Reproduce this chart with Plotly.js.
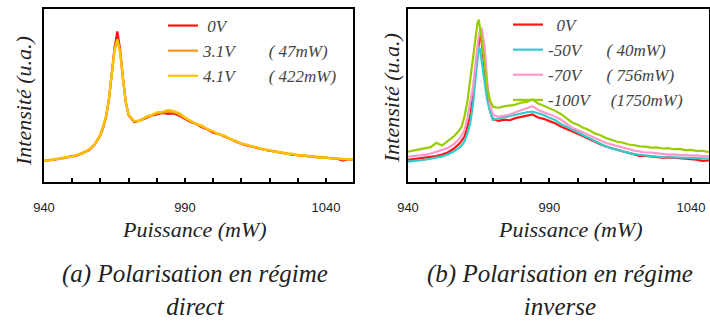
<!DOCTYPE html>
<html>
<head>
<meta charset="utf-8">
<script src="https://cdn.plot.ly/plotly-3.0.1.min.js"></script>
<style>html,body{margin:0;padding:0;background:#fff;}#chart{width:710px;height:329px;}</style>
</head>
<body>
<div id="chart"></div>
<script>
// ---------- (a) Polarisation en régime direct ----------
const xDirect = [940,942,944,946,948,950,952,954,956,958,960,
  961,962,963,964,965,966,967,968,969,970,
  972,974,976,978,980,982,984,986,988,990,992,994,996,998,1000,1002,1004,1006,1008,1010,
  1012,1014,1016,1018,1020,1022,1024,1026,1028,1030,1032,1034,1036,1038,1040,1042,1044,1046,1048,1050];
const yDirect0V = [12.2,12.5,13.1,13.4,14.2,14.6,15.5,16.9,18.4,21.6,27.0,
  31.5,37.5,47,61,77,86.8,76.5,60,46,38.5,
  34.6,35.3,36.8,38.2,38.9,39.8,39.2,39.5,38.2,36.3,34.6,33.4,31.6,30.3,28.4,27.6,26.1,24.6,23.2,21.9,
  21.1,20.3,19.2,18.6,18.1,17.3,16.9,16.4,15.7,15.5,15.1,14.6,14.5,14.0,13.9,13.5,13.4,12.4,13.2,12.9];
const yDirect31V = [12.0,12.8,13.0,13.7,14.0,14.9,15.7,16.6,18.6,21.9,27.3,
  32,38,47.5,61,75.5,82,74.5,59.5,46.5,38.8,
  34.9,35.6,37.2,38.5,39.6,40.3,40.6,40.2,38.9,36.9,35.0,33.6,32.0,30.6,28.9,27.7,26.5,24.9,23.5,22.2,
  21.2,20.6,19.5,18.8,18.2,17.6,16.9,16.6,16.0,15.6,15.2,14.9,14.4,14.1,14.0,13.7,13.4,13.2,13.1,13.0];
const yDirect41V = [12.3,12.4,13.3,13.3,14.4,14.5,15.9,16.8,18.9,21.7,27.1,
  31.8,37.8,47.3,60.5,75.8,82.3,74.8,59.8,46.2,38.6,
  35.2,35.1,37.6,38.4,40.2,40.5,41.6,40.9,39.6,37.2,35.5,33.4,32.5,30.4,29.3,27.4,26.9,24.7,23.9,22.0,
  21.6,20.3,19.9,18.6,18.5,17.3,17.2,16.2,16.3,15.4,15.5,14.6,14.7,13.8,14.2,13.5,13.7,13.0,13.3,12.9];
const namesDirect = ["\u00a00V",
  "3.1V\u00a0\u00a0\u00a0\u00a0\u00a0\u00a0\u00a0\u00a0(\u00a047mW)",
  "4.1V\u00a0\u00a0\u00a0\u00a0\u00a0\u00a0\u00a0\u00a0(\u00a0422mW)"];
const colorsDirect = ["#ff1414", "#f7961e", "#fcc400"];

// ---------- (b) Polarisation en régime inverse ----------
const xInverse = [940,942,944,946,948,950,952,954,956,958,
  959,960,961,962,963,964,964.5,965,965.5,966,967,968,969,970,971,972,
  974,976,978,980,982,984,986,988,990,992,994,996,998,1000,1002,1004,1006,1008,
  1010,1012,1014,1016,1018,1020,1022,1024,1026,1028,1030,1032,1034,1036,1038,1040,1042,1044,1046,1048];
const yInv0V = [12.7,13.1,13.3,13.8,14.2,14.9,15.8,17.0,19.0,21.8,
  23.8,26.2,32,38,50,66,75,83,86.8,81,65,52,41,36.3,35.8,35.2,
  35.9,35.6,36.8,37.5,38.2,38.9,37.2,36.4,35.1,33.9,32.0,30.4,29.2,27.8,26.2,24.9,23.1,21.7,
  20.5,19.4,18.4,17.6,16.8,15.9,15.1,15.0,14.6,14.4,14.1,14.2,13.8,13.7,13.5,13.4,12.9,12.2,12.6,12.5];
const yInv50V = [11.7,12.0,12.3,12.9,13.4,13.9,14.8,15.8,17.4,19.6,
  21.2,23.5,28,34,45,62,70.5,78,76,70,58,47,41,35.8,36.2,36.6,
  37.4,38.0,38.8,39.8,40.2,40.6,39.8,38.6,37.0,35.7,33.5,32.0,30.2,28.7,27.0,25.3,23.5,21.9,
  20.5,19.4,18.4,17.4,16.8,16.0,15.6,15.1,14.9,14.6,14.4,14.3,14.0,14.3,13.9,13.8,13.6,13.5,13.6,13.4];
const yInv70V = [14.6,14.9,15.3,15.6,16.4,17.3,18.4,19.5,21.6,24.6,
  26.8,30,37,45,55,70.5,78,84,87.5,88.8,79,58,44,39,38,37.7,
  38.2,38.9,40.2,41.5,42.6,43.7,41.5,40.3,39.2,37.8,36.0,33.9,31.3,30.0,28.4,27.0,25.5,23.9,
  22.5,21.6,20.5,19.6,18.6,18.1,17.6,17.0,16.9,16.4,16.3,15.8,15.9,15.5,15.6,15.2,15.3,14.9,15.0,14.8];
const yInv100V = [17.5,18.2,18.9,19.6,20.1,22.6,21.0,23.5,26.0,29.5,
  32,38,46.5,59,72,85,91,93.6,89,83,69.5,54,47,43.5,43,42.8,
  43.6,44.2,44.6,45.8,46.2,47.5,45.3,44.0,42.6,41.0,39.2,37.0,34.3,33.0,31.2,30.0,28.0,27.0,
  25.3,24.3,23.2,22.6,21.6,21.2,20.5,20.4,19.8,19.9,19.3,19.5,18.9,19.1,18.4,18.5,17.9,18.0,17.4,17.5];
const namesInverse = ["\u00a0\u00a00V",
  "-50V\u00a0\u00a0\u00a0\u00a0\u00a0\u00a0(\u00a040mW)",
  "-70V\u00a0\u00a0\u00a0\u00a0\u00a0\u00a0(\u00a0756mW)",
  "-100V\u00a0\u00a0\u00a0\u00a0\u00a0(1750mW)"];
const colorsInverse = ["#ff1414", "#33cccc", "#ff99cc", "#99cc00"];

// ---------- axis ticks / labels ----------
const tickValues = [940,950,960,970,980,990,1000,1010,1020,1030,1040];
const tickLabels = ["940","","","","","990","","","","","1040"];
const yTitle = "Intensité (u.a.)";
const xTitle = "Puissance (mW)";
const captionA = "(a) Polarisation en régime<br>direct";
const captionB = "(b) Polarisation en régime<br>inverse";

const traces = [];
[yDirect0V, yDirect31V, yDirect41V].forEach(function (ys, i) {
  traces.push({x: xDirect, y: ys, type: "scatter", mode: "lines", name: "<i>" + namesDirect[i] + "</i>",
    line: {color: colorsDirect[i], width: 2.2}, xaxis: "x", yaxis: "y", legend: "legend"});
});
[yInv0V, yInv50V, yInv70V, yInv100V].forEach(function (ys, i) {
  traces.push({x: xInverse, y: ys, type: "scatter", mode: "lines", name: "<i>" + namesInverse[i] + "</i>",
    line: {color: colorsInverse[i], width: 2.2}, xaxis: "x2", yaxis: "y2", legend: "legend2"});
});

function pxX(v) { return v / 710; }
function pxY(v) { return 1 - v / 329; }

function makeXAxis(domain, range, anchor) {
  return {domain: domain, range: range, anchor: anchor, showline: true, mirror: true, linecolor: "#000", linewidth: 1.8,
    ticks: "inside", ticklen: 4, tickwidth: 1.5, tickcolor: "#000", tickvals: tickValues, ticktext: tickLabels,
    ticklabelstandoff: 12, tickfont: {family: "Liberation Sans", size: 13, color: "#222"},
    showgrid: false, zeroline: false};
}
function makeYAxis(anchor) {
  return {domain: [pxY(182), pxY(8.5)], range: [0, 100], anchor: anchor, showline: true, mirror: true, linecolor: "#000",
    linewidth: 1.8, ticks: "", showticklabels: false, showgrid: false, zeroline: false};
}
function ann(text, x, y, size, angle) {
  return {text: "<i>" + text + "</i>", xref: "paper", yref: "paper", x: x, y: y, textangle: angle,
    showarrow: false, xanchor: "center", yanchor: "middle",
    font: {family: "Liberation Serif", size: size, color: "#222"}};
}

const layout = {
  width: 710, height: 329, margin: {l: 0, r: 0, t: 0, b: 0},
  font: {family: "Liberation Serif"},
  showlegend: true,
  xaxis: makeXAxis([pxX(44), pxX(353)], [940, 1049.6], "y"),
  yaxis: makeYAxis("x"),
  xaxis2: makeXAxis([pxX(408), pxX(709)], [940, 1046.4], "y2"),
  yaxis2: makeYAxis("x2"),
  legend: {x: pxX(163), y: pxY(8), xanchor: "left", yanchor: "top", bgcolor: "rgba(0,0,0,0)",
    font: {family: "Liberation Serif", size: 17, color: "#444"}, tracegroupgap: 0},
  legend2: {x: pxX(508), y: pxY(7), xanchor: "left", yanchor: "top", bgcolor: "rgba(0,0,0,0)",
    font: {family: "Liberation Serif", size: 17, color: "#444"}, tracegroupgap: 0},
  annotations: [
    ann(yTitle, pxX(23), pxY(101), 22, -90),
    ann(yTitle, pxX(391), pxY(98), 22, -90),
    ann(xTitle, pxX(194), pxY(229), 22, 0),
    ann(xTitle, pxX(570), pxY(229), 22, 0),
    ann(captionA, pxX(195), pxY(290), 25, 0),
    ann(captionB, pxX(560), pxY(290), 25, 0)
  ]
};

Plotly.newPlot("chart", traces, layout, {displayModeBar: false});
</script>
</body>
</html>
